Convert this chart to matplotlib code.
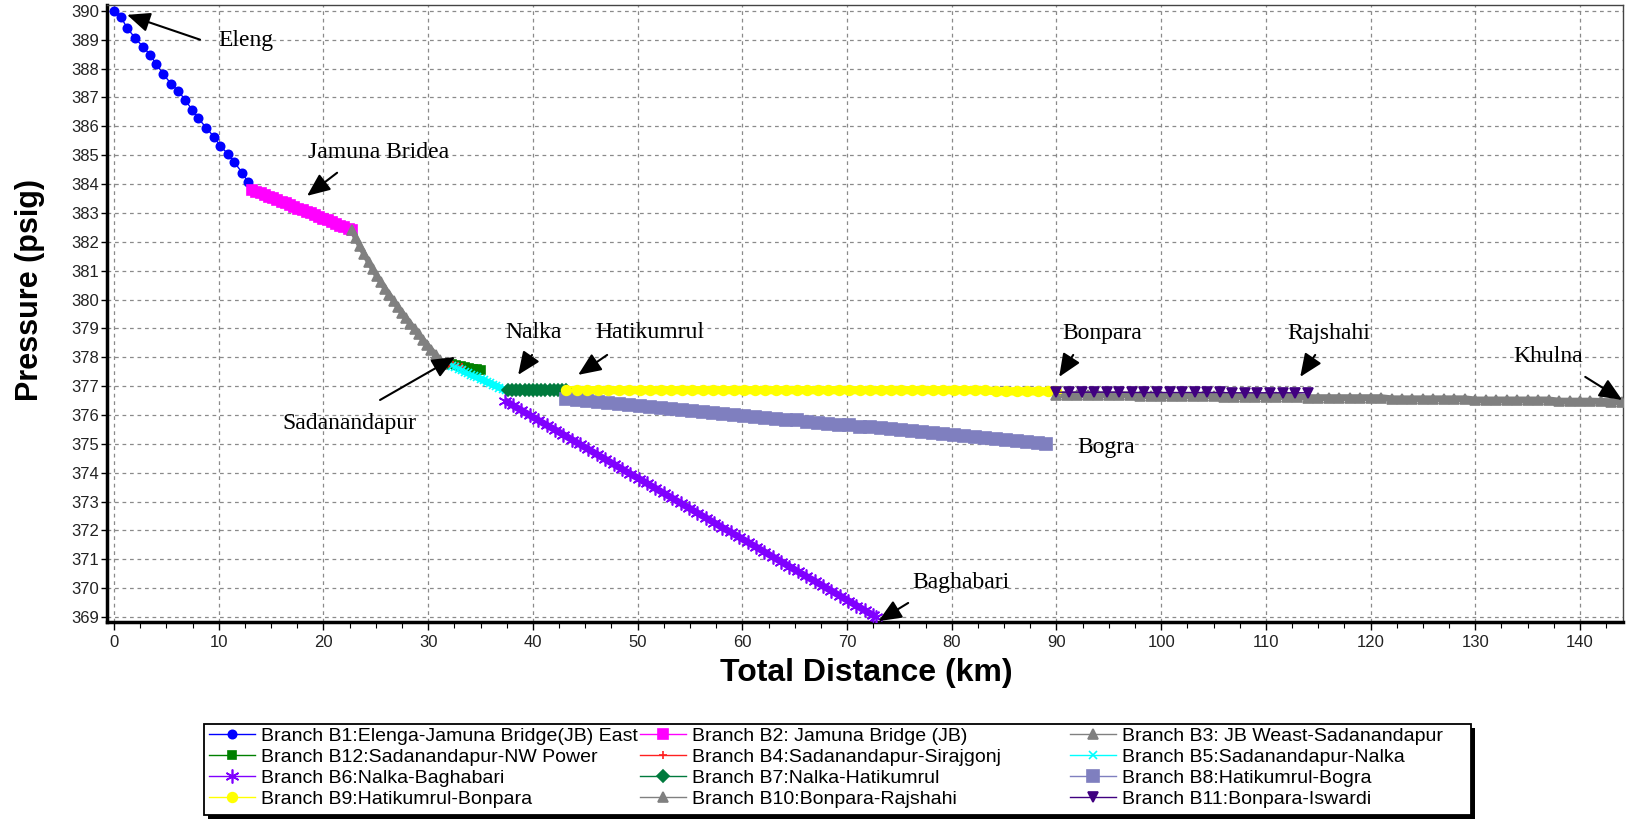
import matplotlib
matplotlib.use("Agg")
import matplotlib.pyplot as plt
from matplotlib.patches import Rectangle

# ---- data (km, psig) ----
b1_x = [0.0, 0.67, 1.24, 2.0, 2.77, 3.44, 4.01, 4.68, 5.44, 6.11, 6.78, 7.45, 8.02,
        8.79, 9.55, 10.12, 10.89, 11.46, 12.23, 12.8]
b1_y = [390.0, 389.77, 389.41, 389.06, 388.75, 388.48, 388.16, 387.82, 387.47, 387.23,
        386.92, 386.57, 386.29, 385.95, 385.63, 385.32, 385.04, 384.77, 384.39, 384.07]

b2_x = [13.2, 13.6, 14.0, 14.4, 14.8, 15.2, 15.6, 16.0, 16.4, 16.8, 17.2, 17.6, 18.0,
        18.4, 18.8, 19.2, 19.6, 20.0, 20.4, 20.8, 21.2, 21.6, 22.0, 22.4, 22.7]
b2_y = [383.80, 383.74, 383.68, 383.62, 383.56, 383.50, 383.45, 383.39, 383.33, 383.27,
        383.21, 383.15, 383.09, 383.03, 382.98, 382.92, 382.86, 382.80, 382.74, 382.68,
        382.62, 382.56, 382.51, 382.45, 382.40]

b3_x = [22.7, 23.1, 23.5, 23.9, 24.3, 24.7, 25.1, 25.5, 25.9, 26.3, 26.7, 27.1, 27.5,
        27.9, 28.3, 28.7, 29.1, 29.5, 29.9, 30.3, 30.7, 31.1, 31.5]
b3_y = [382.40, 382.12, 381.84, 381.57, 381.31, 381.06, 380.82, 380.59, 380.37, 380.16,
        379.95, 379.75, 379.55, 379.35, 379.16, 378.97, 378.79, 378.61, 378.43, 378.26,
        378.09, 377.92, 377.76]

b12_x = [32.3, 32.7, 33.1, 33.5, 33.9, 34.3, 34.7, 35.0]
b12_y = [377.76, 377.73, 377.70, 377.67, 377.64, 377.61, 377.58, 377.56]

b4_x = [32.0, 32.4, 32.8, 33.2]
b4_y = [377.78, 377.74, 377.70, 377.66]

b5_x = [32.3, 32.6, 32.9, 33.2, 33.5, 33.8, 34.1, 34.4, 34.7, 35.0, 35.3, 35.6, 35.9,
        36.2, 36.5, 36.8, 37.1, 37.4]
b5_y = [377.70, 377.65, 377.60, 377.55, 377.50, 377.45, 377.40, 377.35, 377.30, 377.25,
        377.20, 377.15, 377.10, 377.05, 377.00, 376.95, 376.90, 376.85]

b6_x = [37.3, 38.1, 38.9, 39.7, 40.5, 41.3, 42.1, 42.9, 43.7, 44.5, 45.3, 46.1, 46.9,
        47.7, 48.5, 49.3, 50.1, 50.9, 51.7, 52.5, 53.3, 54.1, 54.9, 55.7, 56.5, 57.3,
        58.1, 58.9, 59.7, 60.5, 61.3, 62.1, 62.9, 63.7, 64.5, 65.3, 66.1, 66.9, 67.7,
        68.5, 69.3, 70.1, 70.9, 71.7, 72.5, 72.8]
b6_y = [376.50, 376.33, 376.16, 375.99, 375.82, 375.65, 375.49, 375.32, 375.15, 374.98,
        374.81, 374.64, 374.47, 374.30, 374.13, 373.96, 373.80, 373.63, 373.46, 373.29,
        373.12, 372.95, 372.78, 372.61, 372.44, 372.27, 372.10, 371.94, 371.77, 371.60,
        371.43, 371.26, 371.09, 370.92, 370.75, 370.58, 370.41, 370.25, 370.08, 369.91,
        369.74, 369.57, 369.40, 369.23, 369.06, 369.00]

b7_x = [37.6, 38.0, 38.4, 38.8, 39.2, 39.6, 40.0, 40.4, 40.8, 41.2, 41.6, 42.0, 42.4,
        42.8, 43.2]
b7_y = [376.86, 376.86, 376.86, 376.86, 376.86, 376.86, 376.86, 376.85, 376.85, 376.85,
        376.85, 376.85, 376.85, 376.85, 376.85]

b8_x = [43.2, 44.2, 45.2, 46.2, 47.2, 48.2, 49.2, 50.2, 51.2, 52.2, 53.2, 54.2, 55.2,
        56.2, 57.2, 58.2, 59.2, 60.2, 61.2, 62.2, 63.2, 64.2, 65.2, 66.2, 67.2, 68.2,
        69.2, 70.2, 71.2, 72.2, 73.2, 74.2, 75.2, 76.2, 77.2, 78.2, 79.2, 80.2, 81.2,
        82.2, 83.2, 84.2, 85.2, 86.2, 87.2, 88.2, 89.0]
b8_y = [376.55, 376.52, 376.48, 376.45, 376.41, 376.38, 376.35, 376.31, 376.28, 376.25,
        376.21, 376.18, 376.14, 376.11, 376.08, 376.04, 376.01, 375.98, 375.94, 375.91,
        375.87, 375.84, 375.81, 375.77, 375.74, 375.70, 375.67, 375.64, 375.60, 375.57,
        375.54, 375.50, 375.47, 375.43, 375.40, 375.37, 375.33, 375.30, 375.27, 375.23,
        375.20, 375.16, 375.13, 375.10, 375.06, 375.03, 375.00]

b9_x = [43.2, 44.2, 45.2, 46.2, 47.2, 48.2, 49.2, 50.2, 51.2, 52.2, 53.2, 54.2, 55.2,
        56.2, 57.2, 58.2, 59.2, 60.2, 61.2, 62.2, 63.2, 64.2, 65.2, 66.2, 67.2, 68.2,
        69.2, 70.2, 71.2, 72.2, 73.2, 74.2, 75.2, 76.2, 77.2, 78.2, 79.2, 80.2, 81.2,
        82.2, 83.2, 84.2, 85.2, 86.2, 87.2, 88.2, 89.2, 90.0]
b9_y = [376.86, 376.86, 376.86, 376.86, 376.86, 376.86, 376.86, 376.86, 376.86, 376.86,
        376.86, 376.86, 376.86, 376.86, 376.86, 376.86, 376.86, 376.86, 376.86, 376.86,
        376.86, 376.86, 376.86, 376.86, 376.86, 376.86, 376.86, 376.86, 376.86, 376.86,
        376.86, 376.86, 376.86, 376.86, 376.86, 376.86, 376.86, 376.86, 376.86, 376.86,
        376.86, 376.82, 376.82, 376.82, 376.82, 376.82, 376.82, 376.82]

b10_x = [90, 91, 92, 93, 94, 95, 96, 97, 98, 99, 100, 101, 102, 103, 104, 105, 106, 107,
         108, 109, 110, 111, 112, 113, 114, 115, 116, 117, 118, 119, 120, 121, 122, 123,
         124, 125, 126, 127, 128, 129, 130, 131, 132, 133, 134, 135, 136, 137, 138, 139,
         140, 141, 142, 143, 144]
b10_y = [376.70, 376.70, 376.70, 376.70, 376.70, 376.70, 376.70, 376.70, 376.67, 376.67,
         376.67, 376.67, 376.67, 376.67, 376.67, 376.67, 376.64, 376.64, 376.64, 376.64,
         376.64, 376.64, 376.64, 376.64, 376.60, 376.60, 376.60, 376.60, 376.60, 376.60,
         376.60, 376.60, 376.56, 376.56, 376.56, 376.56, 376.56, 376.56, 376.56, 376.56,
         376.52, 376.52, 376.52, 376.52, 376.52, 376.52, 376.52, 376.52, 376.48, 376.48,
         376.48, 376.48, 376.47, 376.46, 376.45]

b11_x = [90.0, 91.2, 92.4, 93.6, 94.8, 96.0, 97.2, 98.4, 99.6, 100.8, 102.0, 103.2, 104.4,
         105.6, 106.8, 108.0, 109.2, 110.4, 111.6, 112.8, 114.0]
b11_y = [376.79, 376.79, 376.79, 376.79, 376.79, 376.79, 376.78, 376.78, 376.78, 376.78,
         376.78, 376.78, 376.78, 376.78, 376.77, 376.77, 376.77, 376.77, 376.77, 376.77,
         376.77]

# place labels: (name, text pos, arrow tail, arrow tip)
places = [
    ("Eleng", (9.93, 388.96), (8.21, 389.0), (1.24, 389.86)),
    ("Jamuna Bridea", (18.53, 385.08), (21.3, 384.39), (18.43, 383.59)),
    ("Sadanandapur", (16.05, 375.72), (25.4, 376.52), (32.57, 378.01)),
    ("Nalka", (37.34, 378.84), (39.92, 378.08), (38.59, 377.39)),
    ("Hatikumrul", (45.94, 378.84), (47.09, 378.08), (44.32, 377.39)),
    ("Bonpara", (90.54, 378.81), (91.6, 378.08), (90.26, 377.32)),
    ("Rajshahi", (112.03, 378.81), (114.71, 378.08), (113.28, 377.32)),
    ("Khulna", (133.62, 378.01), (140.5, 377.32), (144.03, 376.52)),
    ("Bogra", (91.98, 374.89), None, None),
    ("Baghabari", (76.22, 370.21), (75.84, 369.49), (73.0, 368.86)),
]

W, H = 1627, 822
fig = plt.figure(figsize=(W / 100, H / 100), dpi=100)
ax = fig.add_axes([0.0658, 0.2433, 0.9317, 0.7506])

series = {}
# (key, x, y, label, color, marker, markersize, band width)
specs = [
    ("b1", b1_x, b1_y, "Branch B1:Elenga-Jamuna Bridge(JB) East", "#0000ff", "o", 6, 1),
    ("b2", b2_x, b2_y, "Branch B2: Jamuna Bridge (JB)", "#ff00ff", "s", 7.5, 6),
    ("b3", b3_x, b3_y, "Branch B3: JB Weast-Sadanandapur", "#808080", "^", 7, 4),
    ("b12", b12_x, b12_y, "Branch B12:Sadanandapur-NW Power", "#008000", "s", 6, 5),
    ("b4", b4_x, b4_y, "Branch B4:Sadanandapur-Sirajgonj", "#ff2020", "+", 6, 1),
    ("b5", b5_x, b5_y, "Branch B5:Sadanandapur-Nalka", "#00ffff", "x", 6, 5),
    ("b6", b6_x, b6_y, "Branch B6:Nalka-Baghabari", "#8000ff", (6, 2, 0), 10, 5),
    ("b7", b7_x, b7_y, "Branch B7:Nalka-Hatikumrul", "#007a3d", "D", 6, 5),
    ("b8", b8_x, b8_y, "Branch B8:Hatikumrul-Bogra", "#7f7fbf", "s", 8, 7),
    ("b9", b9_x, b9_y, "Branch B9:Hatikumrul-Bonpara", "#ffff00", "o", 7, 6),
    ("b10", b10_x, b10_y, "Branch B10:Bonpara-Rajshahi", "#808080", "^", 6.5, 5),
    ("b11", b11_x, b11_y, "Branch B11:Bonpara-Iswardi", "#400080", "v", 7, 1),
]

for key, xs, ys, lab, col, mk, ms, band in specs:
    if band > 1:
        ax.plot(xs, ys, color=col, lw=band, solid_capstyle="butt", zorder=2)
    ln, = ax.plot(xs, ys, color=col, lw=1, marker=mk, markersize=ms,
                  markeredgecolor=col, markerfacecolor=col, markeredgewidth=1.2,
                  label=lab, zorder=3)
    series[key] = ln

ax.set_xlim(-0.67, 144.1)
ax.set_ylim(368.83, 390.2)
ax.set_xticks(range(0, 141, 10))
ax.set_xticks([v * 2.5 for v in range(58)], minor=True)
ax.set_yticks(range(369, 391))
ax.grid(True, which="major", color="#8a8a8a", linestyle=(0, (3, 3)), lw=0.9)
ax.set_axisbelow(True)

ax.tick_params(axis="both", which="major", labelsize=12, labelcolor="#222222",
               length=4, width=1, pad=1.5)
ax.tick_params(axis="x", which="major", length=6, pad=3)
ax.tick_params(axis="x", which="minor", length=4, width=0.8)
for lab in ax.get_xticklabels() + ax.get_yticklabels():
    lab.set_fontfamily("Liberation Sans")

for side in ("left", "bottom"):
    ax.spines[side].set_linewidth(2.5)
for side in ("top", "right"):
    ax.spines[side].set_linewidth(1)
    ax.spines[side].set_color("#444444")

ax.set_xlabel("Total Distance (km)", fontsize=23, fontweight="bold",
              family="Liberation Sans")
ax.set_ylabel("Pressure (psig)", fontsize=22, fontweight="bold",
              family="Liberation Sans")
ax.xaxis.set_label_coords(0.501, -0.058)
ax.yaxis.set_label_coords(-0.041, 0.538)

for name, tpos, tail, tip in places:
    ax.text(tpos[0], tpos[1], name, fontsize=17, family="Liberation Serif",
            va="center", ha="left", zorder=6)
    if tip is not None:
        ax.annotate("", xy=tip, xytext=tail, zorder=6, annotation_clip=False,
                    arrowprops=dict(arrowstyle="-|>,head_length=0.7,head_width=0.3",
                                    color="black", lw=1.5, mutation_scale=20,
                                    shrinkA=0, shrinkB=0))

# legend: one frame, three columns placed like the original
box_l, box_r, box_t, box_b = 204, 1471, 724, 815
fig.patches.append(Rectangle((box_l / W + 4 / W, 1 - box_b / H - 4 / H),
                             (box_r - box_l) / W, (box_b - box_t) / H,
                             transform=fig.transFigure, facecolor="black",
                             edgecolor="none", zorder=0))
fig.patches.append(Rectangle((box_l / W, 1 - box_b / H),
                             (box_r - box_l) / W, (box_b - box_t) / H,
                             transform=fig.transFigure, facecolor="white",
                             edgecolor="black", lw=1.3, zorder=1))

columns = [(209, ["b1", "b12", "b6", "b9"]),
           (640, ["b2", "b4", "b7", "b10"]),
           (1070, ["b3", "b5", "b8", "b11"])]
for x0, keys in columns:
    handles = [series[k] for k in keys]
    leg = fig.legend(handles, [h.get_label() for h in handles], ncol=1,
                     loc="upper left", bbox_to_anchor=(x0 / W, 1 - 727 / H),
                     borderaxespad=0, borderpad=0, frameon=False,
                     prop={"family": "Liberation Sans", "size": 14},
                     handlelength=2.35, handletextpad=0.3, labelspacing=0.18)
    leg.set_zorder(2)
    for h in leg.legend_handles:
        h.set_linewidth(1)

fig.savefig("out.png", dpi=100)
